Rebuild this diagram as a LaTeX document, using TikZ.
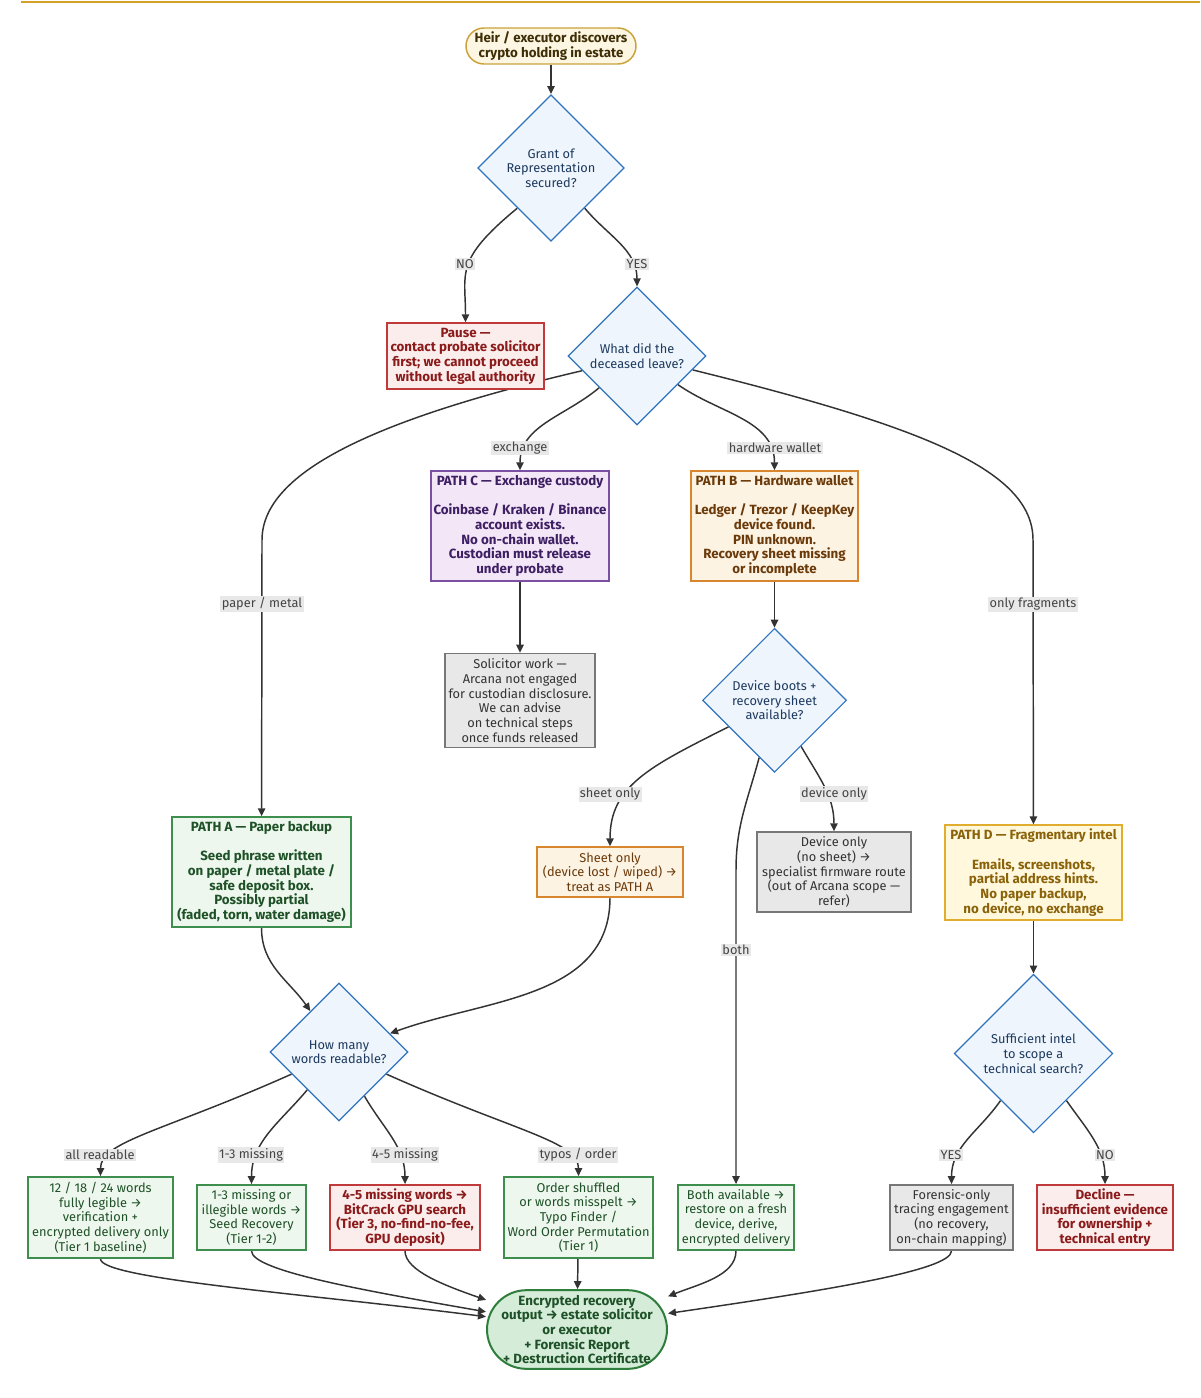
\documentclass[tikz,border=0pt]{standalone}
\usepackage{fontspec}
\setmainfont{Fira Sans}
\usetikzlibrary{arrows.meta}
\usetikzlibrary{shapes.geometric}
\usetikzlibrary{positioning}
\pgfdeclarelayer{background}
\pgfsetlayers{background,main}

\definecolor{edgegrey}{HTML}{333333}
\definecolor{lblfill}{HTML}{E8E8E8}
\definecolor{lbltext}{HTML}{444444}
\definecolor{goldline}{HTML}{D4A22A}
\definecolor{startfill}{HTML}{FDF6E3}
\definecolor{startdraw}{HTML}{C9A23A}
\definecolor{starttext}{HTML}{3D2E06}
\definecolor{askfill}{HTML}{EEF5FC}
\definecolor{askdraw}{HTML}{2F73BF}
\definecolor{asktext}{HTML}{1E3A5F}
\definecolor{redfill}{HTML}{FCEDED}
\definecolor{reddraw}{HTML}{C0393B}
\definecolor{redtext}{HTML}{8B1A1A}
\definecolor{purpfill}{HTML}{F2E6F7}
\definecolor{purpdraw}{HTML}{7D4FA3}
\definecolor{purptext}{HTML}{3E1F63}
\definecolor{orfill}{HTML}{FDF3E3}
\definecolor{ordraw}{HTML}{D8862E}
\definecolor{ortext}{HTML}{6B3A0A}
\definecolor{greyfill}{HTML}{E8E8E8}
\definecolor{greydraw}{HTML}{777777}
\definecolor{greytext}{HTML}{333333}
\definecolor{grnfill}{HTML}{EEF7EE}
\definecolor{grndraw}{HTML}{3E8E4E}
\definecolor{grntext}{HTML}{1E5127}
\definecolor{yelfill}{HTML}{FFF8DC}
\definecolor{yeldraw}{HTML}{E0AD2E}
\definecolor{yeltext}{HTML}{8A6209}
\definecolor{endfill}{HTML}{D4ECD8}
\definecolor{enddraw}{HTML}{2E7D3A}

\begin{document}
\begin{tikzpicture}[x=0.75pt,y=-0.75pt,
		every node/.style={font=\fontsize{9.6}{11}\selectfont, align=center, inner sep=1pt},
		heavy/.style={font=\fontsize{10}{11}\selectfont\bfseries},
		box/.style={draw, rectangle, line width=1.1pt},
		ask/.style={draw=askdraw, fill=askfill, text=asktext, diamond, aspect=1, inner sep=0pt, line width=0.9pt},
		redbox/.style={box, heavy, draw=reddraw, fill=redfill, text=redtext},
		purpbox/.style={box, heavy, draw=purpdraw, fill=purpfill, text=purptext},
		orbox/.style={box, draw=ordraw, fill=orfill, text=ortext},
		greybox/.style={box, draw=greydraw, fill=greyfill, text=greytext},
		grnbox/.style={box, draw=grndraw, fill=grnfill, text=grntext},
		yelbox/.style={box, heavy, draw=yeldraw, fill=yelfill, text=yeltext},
		flow/.style={draw=edgegrey, line width=1.1pt, -{Triangle[length=6pt,width=5.5pt]}},
		lbl/.style={fill=lblfill, text=lbltext, inner sep=1pt}
	]
	\useasboundingbox (0,0) rectangle (1200,1398);
	\draw [goldline, line width=1.5pt] (21,2) -- (1200,2);

	\node [box, heavy, draw=startdraw, fill=startfill, text=starttext, rounded corners=13.5pt,
		minimum width=127.5pt, minimum height=27pt]
		(start) at (551,46) {Heir / executor discovers\\crypto holding in estate};
	\node [ask, minimum width=110pt, minimum height=110pt] (grant) at (551,168) {Grant of\\Representation\\secured?};
	\node [redbox, minimum width=118pt, minimum height=49.5pt] (pause) at (465.5,356)
		{Pause —\\contact probate solicitor\\first; we cannot proceed\\without legal authority};
	\node [ask, minimum width=103.5pt, minimum height=103.5pt] (leave) at (637,356) {What did the\\deceased leave?};

	\node [purpbox, minimum width=133.5pt, minimum height=82.5pt] (pathc) at (520,526)
		{PATH C — Exchange custody\\[11pt]Coinbase / Kraken / Binance\\account exists.\\No on-chain wallet.\\Custodian must release\\under probate};
	\node [orbox, heavy, minimum width=125pt, minimum height=82.5pt] (pathb) at (774.5,526)
		{PATH B — Hardware wallet\\[11pt]Ledger / Trezor / KeepKey\\device found.\\PIN unknown.\\Recovery sheet missing\\or incomplete};
	\node [greybox, minimum width=112.5pt, minimum height=70.5pt, below = 53.25pt of pathc] (solic)
		{Solicitor work —\\Arcana not engaged\\for custodian disclosure.\\We can advise\\on technical steps\\once funds released};
	\node [ask, minimum width=108pt, minimum height=108pt, below = 34.5pt of pathb] (boots) {Device boots +\\recovery sheet\\available?};

	\node [grnbox, heavy, minimum width=134pt, minimum height=82.5pt] (patha) at (261.5,872)
		{PATH A — Paper backup\\[11pt]Seed phrase written\\on paper / metal plate /\\safe deposit box.\\Possibly partial\\(faded, torn, water damage)};
	\node [orbox, minimum width=109.5pt, minimum height=37.5pt] (sheet) at (610,872)
		{Sheet only\\(device lost / wiped) →\\treat as PATH A};
	\node [greybox, minimum width=115.5pt, minimum height=60pt] (devonly) at (834,872)
		{Device only\\(no sheet) →\\specialist firmware route\\(out of Arcana scope —\\refer)};
	\node [yelbox, minimum width=133pt, minimum height=71pt] (pathd) at (1033.5,872.5)
		{PATH D — Fragmentary intel\\[11pt]Emails, screenshots,\\partial address hints.\\No paper backup,\\no device, no exchange};

	\node [ask, minimum width=103.5pt, minimum height=103.5pt] (words) at (339,1052) {How many\\words readable?};
	\node [ask, minimum width=119pt, minimum height=119pt, below = 39.75pt of pathd] (intel) {Sufficient intel\\to scope a\\technical search?};

	\node [grnbox, minimum width=109pt, minimum height=61pt] (allread) at (100.5,1217.5)
		{12 / 18 / 24 words\\fully legible →\\verification +\\encrypted delivery only\\(Tier 1 baseline)};
	\node [grnbox, minimum width=82pt, minimum height=49pt] (few) at (251.5,1217.5)
		{1-3 missing or\\illegible words →\\Seed Recovery\\(Tier 1-2)};
	\node [redbox, minimum width=112.5pt, minimum height=49pt] (many) at (405,1217.5)
		{4-5 missing words →\\BitCrack GPU search\\(Tier 3, no-find-no-fee,\\GPU deposit)};
	\node [grnbox, minimum width=112pt, minimum height=61pt] (typos) at (578.5,1217.5)
		{Order shuffled\\or words misspelt →\\Typo Finder /\\Word Order Permutation\\(Tier 1)};
	\node [grnbox, minimum width=87pt, minimum height=49pt] (bothok) at (736,1217.5)
		{Both available →\\restore on a fresh\\device, derive,\\encrypted delivery};
	\node [greybox, minimum width=92pt, minimum height=49pt] (forensic) at (951.5,1217.5)
		{Forensic-only\\tracing engagement\\(no recovery,\\on-chain mapping)};
	\node [redbox, minimum width=102pt, minimum height=49pt] (decline) at (1105,1217.5)
		{Decline —\\insufficient evidence\\for ownership +\\technical entry};

	\node [box, heavy, draw=enddraw, fill=endfill, text=grntext, line width=1.5pt, rounded corners=29.6pt,
		minimum width=135pt, minimum height=59pt]
		(output) at (577,1329.5)
		{Encrypted recovery\\output → estate solicitor\\or executor\\+ Forensic Report\\+ Destruction Certificate};

	\begin{pgfonlayer}{background}
		\draw [flow] (start) -- (grant);
		\draw [flow] (grant.230) .. controls +(-63,52) and +(0,-50) .. (pause.north);
		\draw [flow] (grant) to[out=-50,in=90] (leave);
		\draw [flow] (leave.195) .. controls +(-200,47) and +(0,-70) .. (262,540) -- (patha);
		\draw [flow] (leave) to[out=220,in=90] (pathc);
		\draw [flow] (leave) to[out=-35,in=90] (pathb);
		\draw [flow] (leave.-14) .. controls +(230,57) and +(0,-70) .. (1033,540) -- (pathd);
		\draw [flow] (pathc) -- (solic);
		\draw [flow] (pathb) -- (boots);
		\draw [flow] (boots.210) .. controls +(-80,40) and +(0,-60) .. (sheet.north);
		\draw [flow] (boots) to[out=-60,in=90] (devonly);
		\draw [flow] (boots) to[out=-105,in=90] (736,870) -- (bothok);
		\draw [flow] (patha) to[out=-90,in=125] (words);
		\draw [flow] (sheet) to[out=-90,in=20] (words);
		\draw [flow] (pathd) -- (intel);
		\draw [flow] (words.205) .. controls +(-130,58) and +(0,-35) .. (allread.north);
		\draw [flow] (words) to[out=230,in=90] (few);
		\draw [flow] (words) to[out=-60,in=90] (many);
		\draw [flow] (words.-25) .. controls +(130,58) and +(0,-35) .. (typos.north);
		\draw [flow] (intel) to[out=235,in=90] (forensic);
		\draw [flow] (intel) to[out=-55,in=90] (decline);
		\draw [flow] (allread.south) .. controls +(0,20) and +(-180,-23) .. (output.172);
		\draw [flow] (few.south) .. controls +(0,20) and +(-120,-21) .. (output.169);
		\draw [flow] (many.south) .. controls +(0,20) and +(-40,-14) .. (output.162);
		\draw [flow] (typos) -- (output);
		\draw [flow] (bothok.south) .. controls +(0,25) and +(30,-12) .. (output.20);
		\draw [flow] (forensic.south) .. controls +(0,20) and +(150,-22) .. (output.10);
	\end{pgfonlayer}

	\foreach \name/\x/\y/\txt in {lno/465/264/NO, lyes/637/264/YES,
			lpaper/262/604/{paper / metal}, lexch/520/448/exchange,
			lhw/775/448/{hardware wallet}, lfrag/1033/604/{only fragments},
			lsheet/610/794/{sheet only}, ldev/834/794/{device only}, lboth/736/950/both,
			lall/100/1155/{all readable}, lfew/251/1155/{1-3 missing}, lmany/405/1155/{4-5 missing},
			ltypo/578/1155/{typos / order}, lyes2/951/1155/YES, lno2/1105/1155/NO} {
		\node [lbl] (\name) at (\x,\y) {\txt};
	}
\end{tikzpicture}
\end{document}
